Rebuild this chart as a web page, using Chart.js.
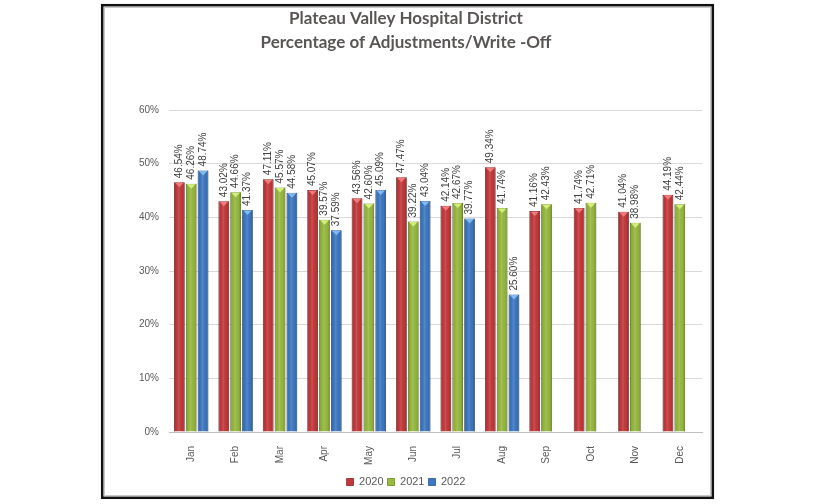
<!DOCTYPE html>
<html>
<head>
<meta charset="utf-8">
<script src="https://cdn.jsdelivr.net/npm/chart.js@4.4.1/dist/chart.umd.min.js"></script>
<style>
  html, body { margin: 0; padding: 0; background: #ffffff; }
  #wrap { width: 816px; height: 504px; position: relative; }
</style>
</head>
<body>
<div id="wrap"><canvas id="c" width="816" height="504"></canvas></div>
<script>
const titleLines = ['Plateau Valley Hospital District', 'Percentage of Adjustments/Write -Off'];
const months = ['Jan','Feb','Mar','Apr','May','Jun','Jul','Aug','Sep','Oct','Nov','Dec'];
const seriesNames = ['2020', '2021', '2022'];
const values2020 = [46.54, 43.02, 47.11, 45.07, 43.56, 47.47, 42.14, 49.34, 41.16, 41.74, 41.04, 44.19];
const values2021 = [46.26, 44.66, 45.57, 39.57, 42.60, 39.22, 42.67, 41.74, 42.43, 42.71, 38.98, 42.44];
const values2022 = [48.74, 41.37, 44.58, 37.59, 45.09, 43.04, 39.77, 25.60, null, null, null, null];
const yTicks = [0, 10, 20, 30, 40, 50, 60];

const colors = ['#C5383A', '#98BA3E', '#3C78C3'];
const topColors = ['#F07A7C', '#D4EE7A', '#7FB8F2'];
const edgeColors = ['#8E2426', '#6C8A26', '#2A5690'];

const frame = {
  id: 'frame',
  beforeDraw(chart) {
    const c = chart.ctx;
    c.save();
    c.fillStyle = '#ffffff';
    c.fillRect(0, 0, chart.width, chart.height);
    c.strokeStyle = '#111111';
    c.lineWidth = 2.5;
    c.strokeRect(102.2, 5.2, 610.6, 492.6);
    c.strokeStyle = '#c8c8c8';
    c.lineWidth = 1;
    c.strokeRect(104.5, 7.5, 606, 488);
    c.restore();
  }
};

const bar3d = {
  id: 'bar3d',
  afterDatasetsDraw(chart) {
    const c = chart.ctx;
    chart.data.datasets.forEach((ds, di) => {
      const meta = chart.getDatasetMeta(di);
      meta.data.forEach((el, i) => {
        if (ds.data[i] === null || ds.data[i] === undefined) return;
        const p = el.getProps(['x', 'y', 'base', 'width'], true);
        const left = p.x - p.width / 2, right = p.x + p.width / 2;
        c.save();
        const g = c.createLinearGradient(left, 0, right, 0);
        g.addColorStop(0, 'rgba(0,0,0,0.22)');
        g.addColorStop(0.18, 'rgba(0,0,0,0.05)');
        g.addColorStop(0.45, 'rgba(255,255,255,0.12)');
        g.addColorStop(0.75, 'rgba(0,0,0,0.02)');
        g.addColorStop(1, 'rgba(0,0,0,0.25)');
        c.fillStyle = g;
        c.fillRect(left, p.y, p.width, p.base - p.y);
        c.fillStyle = topColors[di];
        c.beginPath();
        c.moveTo(left + 1, p.y + 0.5);
        c.lineTo(right - 1, p.y + 0.5);
        c.lineTo(p.x, p.y + 5);
        c.closePath();
        c.fill();
        c.restore();
      });
    });
  }
};

const valueLabels = {
  id: 'valueLabels',
  afterDatasetsDraw(chart) {
    const c = chart.ctx;
    c.save();
    c.font = '10px "Liberation Sans", Arial, sans-serif';
    c.fillStyle = '#404040';
    c.textAlign = 'left';
    c.textBaseline = 'middle';
    chart.data.datasets.forEach((ds, di) => {
      const meta = chart.getDatasetMeta(di);
      meta.data.forEach((el, i) => {
        const v = ds.data[i];
        if (v === null || v === undefined) return;
        const p = el.getProps(['x', 'y'], true);
        c.save();
        c.translate(p.x, p.y - 4);
        c.rotate(-Math.PI / 2);
        c.fillText(v.toFixed(2) + '%', 0, 0);
        c.restore();
      });
    });
    c.restore();
  }
};

new Chart(document.getElementById('c'), {
  type: 'bar',
  data: {
    labels: months,
    datasets: [
      { label: seriesNames[0], data: values2020, backgroundColor: colors[0], borderColor: edgeColors[0], borderWidth: 0.8 },
      { label: seriesNames[1], data: values2021, backgroundColor: colors[1], borderColor: edgeColors[1], borderWidth: 0.8 },
      { label: seriesNames[2], data: values2022, backgroundColor: colors[2], borderColor: edgeColors[2], borderWidth: 0.8 }
    ]
  },
  options: {
    responsive: false,
    animation: false,
    devicePixelRatio: 1,
    layout: { padding: { left: 110, right: 114, top: 5, bottom: 6.5 } },
    datasets: { bar: { categoryPercentage: 0.8, barPercentage: 0.9 } },
    plugins: {
      title: {
        display: true,
        text: titleLines,
        color: '#5a5555',
        font: { family: 'Lato, "Liberation Sans", sans-serif', size: 17, weight: 'bold', lineHeight: 1.45 },
        padding: { top: 1, bottom: 54.7 }
      },
      legend: {
        position: 'bottom',
        labels: {
          boxWidth: 7,
          boxHeight: 7,
          padding: 4,
          color: '#595959',
          font: { family: '"Liberation Sans", Arial, sans-serif', size: 11 }
        }
      },
      tooltip: { enabled: false }
    },
    scales: {
      x: {
        grid: { display: false, drawTicks: false },
        border: { display: true, color: '#c0c0c0', width: 1 },
        ticks: {
          autoSkip: false,
          maxRotation: 90,
          minRotation: 90,
          padding: 14,
          color: '#595959',
          font: { family: '"Liberation Sans", Arial, sans-serif', size: 10 }
        },
        afterFit(scale) { scale.height = 40.5; }
      },
      y: {
        min: yTicks[0],
        max: yTicks[yTicks.length - 1],
        grid: { color: '#d9d9d9', drawTicks: false },
        border: { display: false },
        ticks: {
          stepSize: 10,
          padding: 10,
          color: '#595959',
          font: { family: '"Liberation Sans", Arial, sans-serif', size: 10 },
          callback: (v) => v + '%'
        },
        afterFit(scale) { scale.width = 59; }
      }
    }
  },
  plugins: [frame, bar3d, valueLabels]
});
</script>
</body>
</html>
